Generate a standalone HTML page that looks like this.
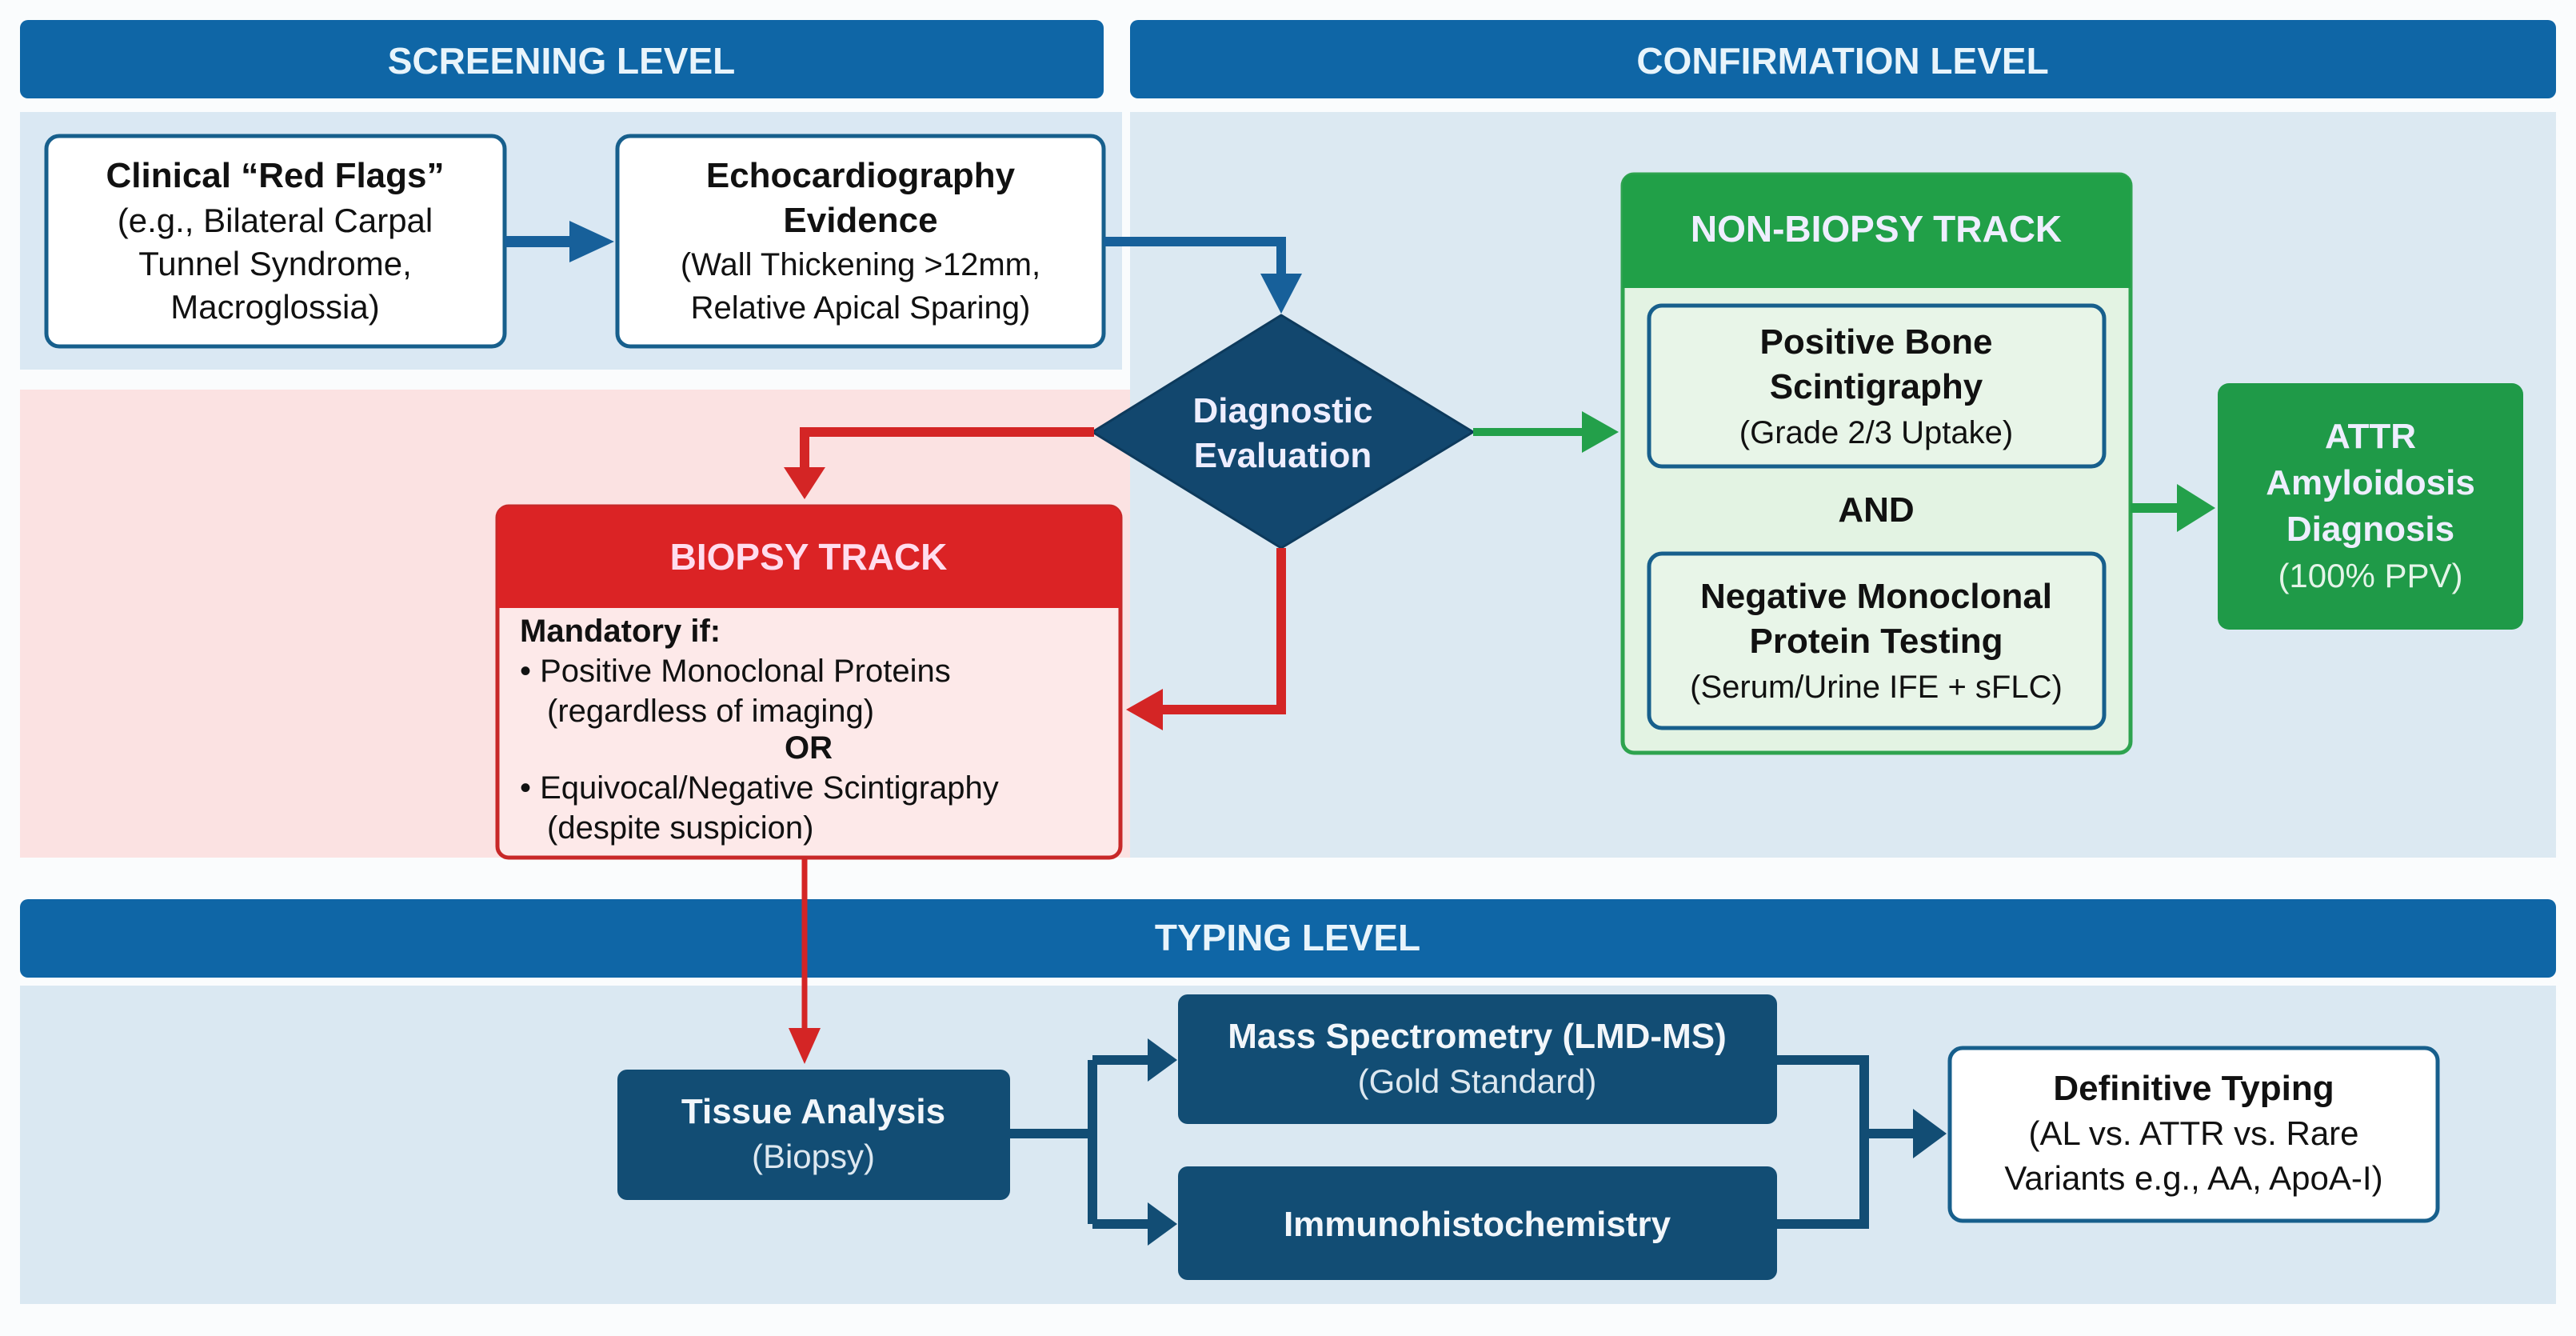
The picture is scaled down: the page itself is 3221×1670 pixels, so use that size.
<!DOCTYPE html>
<html><head><meta charset="utf-8"><style>
html,body{margin:0;padding:0;background:#fff;}
svg{display:block}
text{font-family:"Liberation Sans",sans-serif;}
</style></head><body>
<svg width="3221" height="1670" viewBox="0 0 3221 1670" xmlns="http://www.w3.org/2000/svg">
<defs>
<marker id="ab" viewBox="0 0 10 10" refX="9" refY="5" markerWidth="4" markerHeight="4" orient="auto" markerUnits="strokeWidth"><path d="M0,0 L10,5 L0,10 z" fill="#17609a"/></marker>
</defs>
<rect width="3221" height="1670" fill="#fafcfd"/>
<!-- backgrounds -->
<rect x="25" y="140" width="1378" height="322" fill="#dae8f3"/>
<rect x="25" y="487" width="1388" height="585" fill="#fbe2e2"/>
<rect x="1413" y="140" width="1783" height="932" fill="#dce9f2"/>
<rect x="25" y="1232" width="3171" height="398" fill="#dae8f2"/>
<!-- headers -->
<rect x="25" y="25" width="1355" height="98" rx="10" fill="#0f66a6"/>
<text x="702" y="92" font-size="46" font-weight="bold" fill="#e8f4fb" text-anchor="middle">SCREENING LEVEL</text>
<rect x="1413" y="25" width="1783" height="98" rx="10" fill="#0f66a6"/>
<text x="2304" y="92" font-size="46" font-weight="bold" fill="#e8f4fb" text-anchor="middle">CONFIRMATION LEVEL</text>
<rect x="25" y="1124" width="3171" height="98" rx="10" fill="#0f66a6"/>
<text x="1610" y="1188" font-size="46" font-weight="bold" fill="#e8f4fb" text-anchor="middle">TYPING LEVEL</text>

<!-- screening boxes -->
<rect x="58" y="170" width="573" height="263" rx="16" fill="#fff" stroke="#175f8c" stroke-width="5"/>
<text x="344" y="234" font-size="44" font-weight="bold" fill="#111" text-anchor="middle">Clinical “Red Flags”</text>
<text x="344" y="290" font-size="42" fill="#111" text-anchor="middle">(e.g., Bilateral Carpal</text>
<text x="344" y="344" font-size="42" fill="#111" text-anchor="middle">Tunnel Syndrome,</text>
<text x="344" y="398" font-size="42" fill="#111" text-anchor="middle">Macroglossia)</text>
<rect x="772" y="170" width="608" height="263" rx="16" fill="#fff" stroke="#175f8c" stroke-width="5"/>
<text x="1076" y="234" font-size="44" font-weight="bold" fill="#111" text-anchor="middle">Echocardiography</text>
<text x="1076" y="290" font-size="44" font-weight="bold" fill="#111" text-anchor="middle">Evidence</text>
<text x="1076" y="344" font-size="40" fill="#111" text-anchor="middle">(Wall Thickening &gt;12mm,</text>
<text x="1076" y="398" font-size="40" fill="#111" text-anchor="middle">Relative Apical Sparing)</text>

<!-- blue arrows -->
<line x1="631" y1="302" x2="720" y2="302" stroke="#17609a" stroke-width="14"/>
<path d="M712,276 L768,302 L712,328 z" fill="#17609a"/>
<path d="M1380,302 L1602,302 L1602,345" fill="none" stroke="#17609a" stroke-width="12"/>
<path d="M1576,342 L1628,342 L1602,392 z" fill="#17609a"/>

<!-- diamond -->
<path d="M1602,394 L1842,540 L1602,685 L1366,540 z" fill="#12476e" stroke="#0d3a5c" stroke-width="3" stroke-linejoin="round"/>
<text x="1604" y="528" font-size="44" font-weight="bold" fill="#eef" text-anchor="middle">Diagnostic</text>
<text x="1604" y="584" font-size="44" font-weight="bold" fill="#eef" text-anchor="middle">Evaluation</text>

<!-- red arrows -->
<path d="M1368,540 L1006,540 L1006,590" fill="none" stroke="#d42525" stroke-width="12"/>
<path d="M980,584 L1032,584 L1006,624 z" fill="#d42525"/>
<path d="M1602,685 L1602,887 L1450,887" fill="none" stroke="#d42525" stroke-width="12"/>
<path d="M1454,861 L1454,913 L1408,887 z" fill="#d42525"/>
<line x1="1006" y1="1072" x2="1006" y2="1290" stroke="#d42525" stroke-width="7"/>
<path d="M986,1285 L1026,1285 L1006,1330 z" fill="#d42525"/>

<!-- green arrow -->
<line x1="1842" y1="540" x2="1985" y2="540" stroke="#23a04a" stroke-width="10"/>
<path d="M1978,514 L2024,540 L1978,566 z" fill="#23a04a"/>

<!-- biopsy box -->
<rect x="622" y="633" width="779" height="439" rx="14" fill="#fde9e9" stroke="#c82828" stroke-width="5"/>
<path d="M636,633 L1387,633 Q1401,633 1401,647 L1401,760 L622,760 L622,647 Q622,633 636,633 z" fill="#db2325"/>
<text x="1011" y="712" font-size="46" font-weight="bold" fill="#fde" text-anchor="middle">BIOPSY TRACK</text>
<text x="650" y="802" font-size="40" font-weight="bold" fill="#111">Mandatory if:</text>
<text x="650" y="852" font-size="40" fill="#111">• Positive Monoclonal Proteins</text>
<text x="684" y="902" font-size="40" fill="#111">(regardless of imaging)</text>
<text x="1011" y="948" font-size="40" font-weight="bold" fill="#111" text-anchor="middle">OR</text>
<text x="650" y="998" font-size="40" fill="#111">• Equivocal/Negative Scintigraphy</text>
<text x="684" y="1048" font-size="40" fill="#111">(despite suspicion)</text>

<!-- non-biopsy -->
<rect x="2029" y="218" width="635" height="723" rx="14" fill="#e3f3e3" stroke="#2ea34f" stroke-width="5"/>
<path d="M2043,218 L2650,218 Q2664,218 2664,232 L2664,360 L2029,360 L2029,232 Q2029,218 2043,218 z" fill="#21a048"/>
<text x="2346" y="302" font-size="46" font-weight="bold" fill="#eef" text-anchor="middle">NON-BIOPSY TRACK</text>
<rect x="2062" y="382" width="569" height="201" rx="16" fill="#e8f5e8" stroke="#175f8c" stroke-width="5"/>
<text x="2346" y="442" font-size="44" font-weight="bold" fill="#111" text-anchor="middle">Positive Bone</text>
<text x="2346" y="498" font-size="44" font-weight="bold" fill="#111" text-anchor="middle">Scintigraphy</text>
<text x="2346" y="554" font-size="40" fill="#111" text-anchor="middle">(Grade 2/3 Uptake)</text>
<text x="2346" y="652" font-size="44" font-weight="bold" fill="#111" text-anchor="middle">AND</text>
<rect x="2062" y="692" width="569" height="218" rx="16" fill="#e8f5e8" stroke="#175f8c" stroke-width="5"/>
<text x="2346" y="760" font-size="44" font-weight="bold" fill="#111" text-anchor="middle">Negative Monoclonal</text>
<text x="2346" y="816" font-size="44" font-weight="bold" fill="#111" text-anchor="middle">Protein Testing</text>
<text x="2346" y="872" font-size="40" fill="#111" text-anchor="middle">(Serum/Urine IFE + sFLC)</text>

<line x1="2664" y1="635" x2="2730" y2="635" stroke="#23a04a" stroke-width="12"/>
<path d="M2722,605 L2770,635 L2722,665 z" fill="#23a04a"/>
<rect x="2773" y="479" width="382" height="308" rx="14" fill="#1f9a48"/>
<text x="2964" y="560" font-size="44" font-weight="bold" fill="#eef" text-anchor="middle">ATTR</text>
<text x="2964" y="618" font-size="44" font-weight="bold" fill="#eef" text-anchor="middle">Amyloidosis</text>
<text x="2964" y="676" font-size="44" font-weight="bold" fill="#eef" text-anchor="middle">Diagnosis</text>
<text x="2964" y="734" font-size="42" fill="#e4f4e8" text-anchor="middle">(100% PPV)</text>

<!-- typing -->
<rect x="772" y="1337" width="491" height="163" rx="12" fill="#124d74"/>
<text x="1017" y="1404" font-size="44" font-weight="bold" fill="#f2f6fa" text-anchor="middle">Tissue Analysis</text>
<text x="1017" y="1460" font-size="42" fill="#dde8f0" text-anchor="middle">(Biopsy)</text>
<rect x="1473" y="1243" width="749" height="162" rx="12" fill="#124d74"/>
<text x="1847" y="1310" font-size="44" font-weight="bold" fill="#f2f6fa" text-anchor="middle">Mass Spectrometry (LMD-MS)</text>
<text x="1847" y="1366" font-size="42" fill="#dde8f0" text-anchor="middle">(Gold Standard)</text>
<rect x="1473" y="1458" width="749" height="142" rx="12" fill="#124d74"/>
<text x="1847" y="1545" font-size="44" font-weight="bold" fill="#f2f6fa" text-anchor="middle">Immunohistochemistry</text>

<path d="M1263,1417 L1366,1417 M1366,1325 L1366,1530 M1366,1325 L1440,1325 M1366,1530 L1440,1530" fill="none" stroke="#124d74" stroke-width="12"/>
<path d="M1435,1298 L1472,1325 L1435,1352 z" fill="#124d74"/>
<path d="M1435,1503 L1472,1530 L1435,1557 z" fill="#124d74"/>
<path d="M2222,1325 L2331,1325 L2331,1530 L2222,1530 M2331,1417 L2400,1417" fill="none" stroke="#124d74" stroke-width="12"/>
<path d="M2392,1386 L2434,1417 L2392,1448 z" fill="#124d74"/>

<rect x="2438" y="1310" width="610" height="216" rx="16" fill="#fff" stroke="#175f8c" stroke-width="5"/>
<text x="2743" y="1375" font-size="44" font-weight="bold" fill="#111" text-anchor="middle">Definitive Typing</text>
<text x="2743" y="1431" font-size="42" fill="#111" text-anchor="middle">(AL vs. ATTR vs. Rare</text>
<text x="2743" y="1487" font-size="42" fill="#111" text-anchor="middle">Variants e.g., AA, ApoA-I)</text>
</svg>
</body></html>
